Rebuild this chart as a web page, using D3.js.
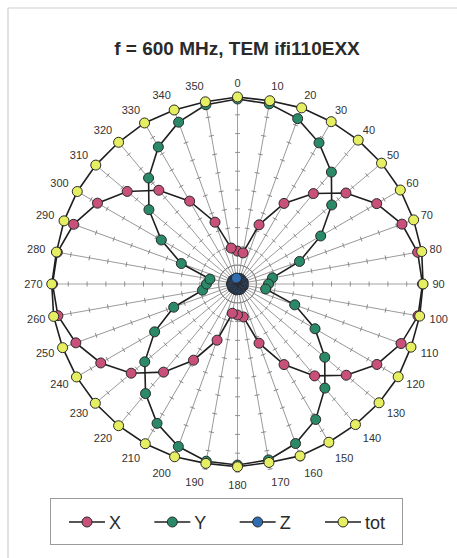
<!DOCTYPE html>
<html>
<head>
<meta charset="utf-8">
<script src="https://cdn.jsdelivr.net/npm/d3@7"></script>
<style>
  body { margin: 0; background: #fff; }
  svg { display: block; }
  text { font-family: Arial, "Liberation Sans", sans-serif; }
</style>
</head>
<body>
<svg id="chart" width="457" height="558"></svg>
<script>
// angle categories (deg)
var angles = [0,10,20,30,40,50,60,70,80,90,100,110,120,130,140,150,160,170,
              180,190,200,210,220,230,240,250,260,270,280,290,300,310,320,330,340,350];

// field values (axis 0..10)
var xVals = [1.75,1.68,3.35,4.95,6.28,7.53,8.55,9.31,9.73,9.84,9.75,9.26,8.56,7.55,6.38,4.95,3.35,1.78,
             1.65,1.58,3.18,4.68,6.12,7.38,8.40,9.15,9.70,9.84,9.73,9.28,8.60,7.66,6.51,5.09,3.50,1.94];
var yVals = [9.84,9.73,9.36,8.67,7.77,6.54,5.11,3.51,1.89,1.65,1.52,3.24,4.76,6.06,7.23,8.32,9.03,9.50,
             9.63,9.57,9.20,8.56,7.61,6.44,5.09,3.61,1.89,1.65,1.49,3.18,4.68,6.15,7.36,8.42,9.16,9.68];
var zVals = [0.30,0.28,0.30,0.32,0.30,0.28,0.30,0.32,0.30,0.28,0.30,0.32,0.30,0.28,0.30,0.32,0.30,0.28,
             0.30,0.32,0.30,0.28,0.30,0.32,0.30,0.28,0.30,0.32,0.30,0.28,0.30,0.32,0.30,0.28,0.30,0.32];
var totVals = [9.95,9.90,9.97,9.97,9.99,10.0,10.0,9.97,9.95,9.87,9.84,9.82,9.87,9.83,9.76,9.72,9.73,9.64,
               9.72,9.69,9.78,9.81,9.84,9.87,9.89,9.90,9.93,9.88,9.78,9.82,9.84,9.84,9.84,9.89,9.85,9.84];

var seriesNames = ["X","Y","Z","tot"];
var seriesColors = ["#c9507a","#2a8a68","#2f6db3","#e6ef62"];
var tickValues = [1,2,3,4,5,6,7,8,9,10];
var title = "f = 600 MHz, TEM ifi110EXX";

var svg = d3.select("#chart");
var cx = 237.5, cy = 284, R = 188;

// frame (top + left edge only visible)
svg.append("line").attr("x1",8).attr("y1",8).attr("x2",457).attr("y2",8)
  .attr("stroke","#cfcfcf").attr("stroke-width",1.2);
svg.append("line").attr("x1",8).attr("y1",8).attr("x2",8).attr("y2",558)
  .attr("stroke","#cfcfcf").attr("stroke-width",1.2);

svg.append("text")
  .attr("x",237).attr("y",55)
  .attr("text-anchor","middle")
  .attr("font-size","19px").attr("font-weight","bold").attr("fill","#2a2a2a")
  .text(title);

var r = d3.scaleLinear().domain([0,10]).range([0,R]);
var a = d3.scaleLinear().domain([0,360]).range([0,2*Math.PI]);

var g = svg.append("g").attr("transform","translate(" + cx + "," + cy + ")");

// spokes with cross ticks
var spokes = g.selectAll("g.spoke")
  .data(angles)
  .enter()
  .append("g")
  .attr("class","spoke")
  .attr("transform",function(d){ return "rotate(" + (d - 90) + ")"; });

spokes.append("line")
  .attr("x1",0).attr("y1",0).attr("x2",r(10)).attr("y2",0)
  .attr("stroke","#8a8a8a").attr("stroke-width",0.8);

spokes.selectAll("line.tick")
  .data(tickValues)
  .enter()
  .append("line")
  .attr("class","tick")
  .attr("x1",function(d){ return r(d); }).attr("x2",function(d){ return r(d); })
  .attr("y1",-2.5).attr("y2",2.5)
  .attr("stroke","#7a7a7a").attr("stroke-width",0.8);

// angle labels
g.selectAll("text.alab")
  .data(angles)
  .enter()
  .append("text")
  .attr("class","alab")
  .attr("x",function(d){ return Math.sin(a(d)) * (R + 7); })
  .attr("y",function(d){ return -Math.cos(a(d)) * (R + 7); })
  .attr("dy",function(d){ return (0.35 - 0.55 * Math.cos(a(d))).toFixed(2) + "em"; })
  .attr("text-anchor",function(d){
    var s = Math.sin(a(d));
    return s > 0.05 ? "start" : (s < -0.05 ? "end" : "middle");
  })
  .attr("font-size","11px").attr("fill","#333")
  .text(function(d){ return d; });

// series
var allSeries = [xVals, yVals, zVals, totVals];
var line = d3.lineRadial()
  .angle(function(d,i){ return a(angles[i]); })
  .radius(function(d){ return r(d); })
  .curve(d3.curveLinearClosed);

allSeries.forEach(function(vals, k){
  var sg = g.append("g");
  sg.append("path")
    .attr("d", line(vals))
    .attr("fill","none")
    .attr("stroke","#1f1f1f")
    .attr("stroke-width",1.6);
  sg.selectAll("circle")
    .data(vals)
    .enter()
    .append("circle")
    .attr("cx",function(d,i){ return Math.sin(a(angles[i])) * r(d); })
    .attr("cy",function(d,i){ return -Math.cos(a(angles[i])) * r(d); })
    .attr("r",5)
    .attr("fill",seriesColors[k])
    .attr("stroke","#2a2a2a")
    .attr("stroke-width",1);
});

// legend
svg.append("rect")
  .attr("x",50.5).attr("y",498.5).attr("width",352).attr("height",46)
  .attr("fill","#fff").attr("stroke","#9a9a9a").attr("stroke-width",1);

var legX = d3.scalePoint().domain(seriesNames).range([87,343]);
var leg = svg.selectAll("g.leg")
  .data(seriesNames)
  .enter()
  .append("g")
  .attr("class","leg")
  .attr("transform",function(d){ return "translate(" + legX(d) + ",522)"; });

leg.append("line")
  .attr("x1",-18).attr("x2",18).attr("y1",0).attr("y2",0)
  .attr("stroke","#1f1f1f").attr("stroke-width",1.6);
leg.append("circle")
  .attr("r",5)
  .attr("fill",function(d,i){ return seriesColors[i]; })
  .attr("stroke","#2a2a2a").attr("stroke-width",1);
leg.append("text")
  .attr("x",22).attr("y",7)
  .attr("font-size","18px").attr("fill","#2a2a2a")
  .text(function(d){ return d; });
</script>
</body>
</html>
